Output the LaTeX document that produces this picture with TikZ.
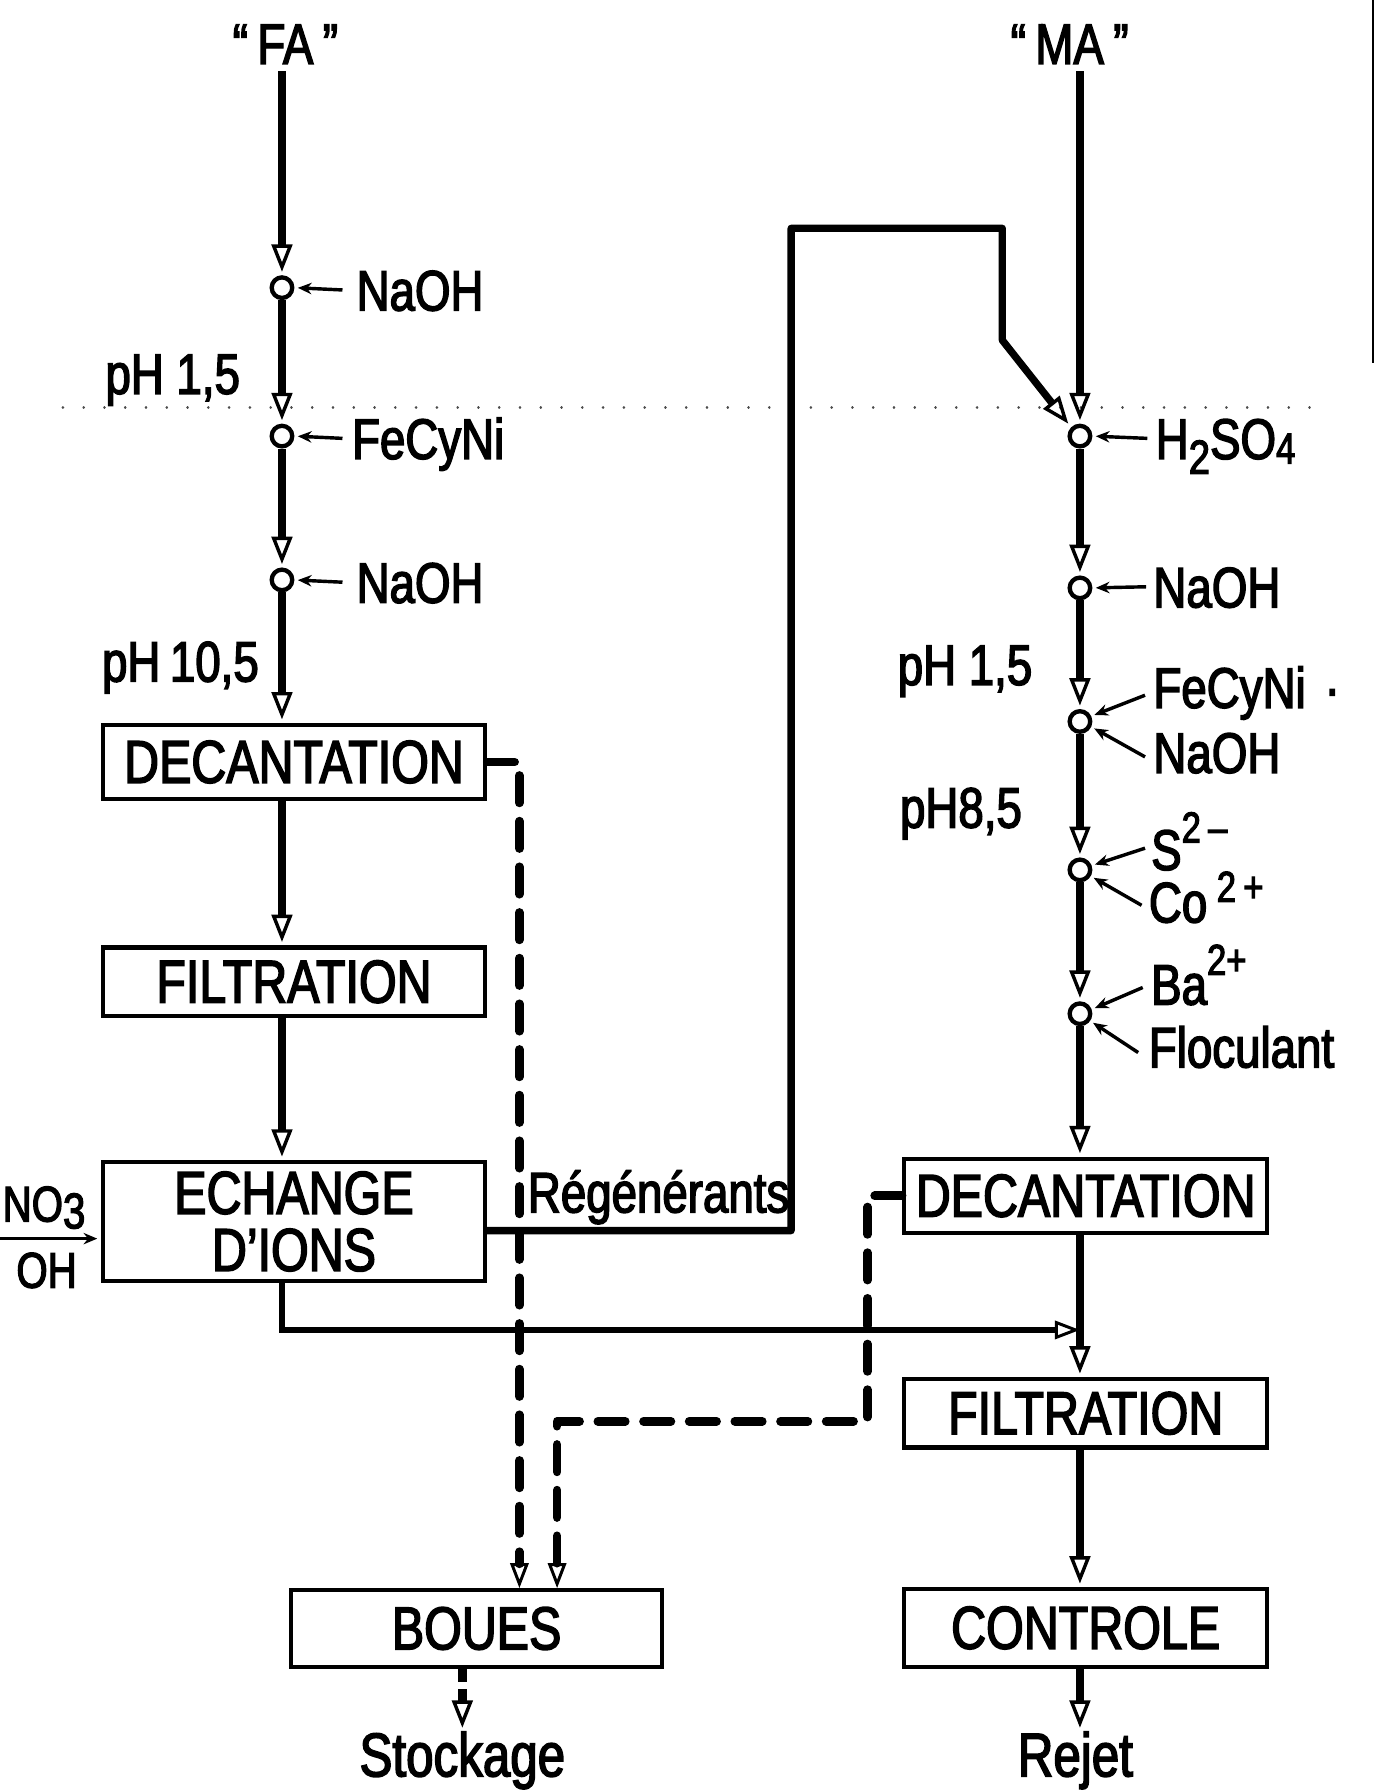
\documentclass[tikz,border=0pt]{standalone}
\usepackage{fontspec}
\setmainfont{Liberation Sans}[FakeStretch=0.8,FakeBold=2.5]
\usetikzlibrary{arrows.meta,calc}
\begin{document}
\begin{tikzpicture}[x=0.5pt,y=-0.5pt,
  flow/.style={line width=3.8pt, -{Triangle[open,length=12pt,width=9pt,line width=1.5pt]}, shorten >=1.5pt},
  thinflow/.style={line width=2.8pt, -{Triangle[open,length=11pt,width=8pt,line width=1.3pt]}},
  regen/.style={line width=3.2pt, line join=round, -{Triangle[open,length=12pt,width=9pt,line width=1.5pt]}, shorten >=2pt},
  sludge/.style={line width=3.8pt, dash pattern=on 12pt off 8pt, line cap=round, line join=round, -{Triangle[open,length=11pt,width=8pt,line width=1.3pt]}},
  box/.style={draw, line width=1.8pt, inner sep=0pt, font=\fontsize{26.5}{25}\selectfont},
  mix/.style={circle, draw, line width=1.9pt, fill=white, minimum size=9pt, inner sep=0pt},
  lbl/.style={inner sep=0pt, font=\fontsize{25}{28}\selectfont},
  reag/.style={line width=1.5pt, -{Stealth[length=6pt,width=5pt]}, shorten >=1.5pt},
  dots/.style={line width=1.1pt, dash pattern=on 0.1pt off 9pt, line cap=round, black!70},
]
\useasboundingbox (0,0) rectangle (1206,1568);

% scan artefacts: dotted fold line and page border
\draw[dots] (55,357) -- (1165,357);
\draw[line width=0.9pt] (1203,0) -- (1203,318);

% titles
\node[lbl, anchor=base] (fa) at (250,56) {“\,FA\,”};
\node[lbl, anchor=base] (ma) at (937,56) {“\,MA\,”};

% left column
\node[mix] (l1) at (247,252) {};
\node[mix] (l2) at (247,382) {};
\node[mix] (l3) at (247,508) {};
\node[box, minimum width=167.5pt, minimum height=32.5pt] (ldec) at (257.5,667.5) {DECANTATION};
\node[box, minimum width=167.5pt, minimum height=30pt] (lfil) at (257.5,860) {FILTRATION};
\node[box, minimum width=167.5pt, minimum height=52pt, align=center] (lech) at (257.5,1070) {ECHANGE\\D’IONS};
\node[box, minimum width=162.5pt, minimum height=33.5pt] (boues) at (417.5,1426.5) {BOUES};
\node[lbl, anchor=base, font=\fontsize{27}{30}\selectfont] (stock) at (405,1556) {Stockage};

% right column
\node[mix] (r1) at (946,382) {};
\node[mix] (r2) at (946,515) {};
\node[mix] (r3) at (946,632) {};
\node[mix] (r4) at (946,762) {};
\node[mix] (r5) at (946,888) {};
\node[box, minimum width=159pt, minimum height=32.5pt] (rdec) at (951,1047.5) {DECANTATION};
\node[box, minimum width=159pt, minimum height=30pt] (rfil) at (951,1238) {FILTRATION};
\node[box, minimum width=159pt, minimum height=34pt] (rctl) at (951,1426) {CONTROLE};
\node[lbl, anchor=base, font=\fontsize{27}{30}\selectfont] (rejet) at (942,1556) {Rejet};

% pH labels
\node[lbl, anchor=base west] (ph1) at (92,345) {pH 1,5};
\node[lbl, anchor=base west] (ph2) at (89,597) {pH\,10,5};
\node[lbl, anchor=base west] (ph3) at (786,600) {pH 1,5};
\node[lbl, anchor=base west] (ph4) at (788,725) {pH8,5};

% reagents left
\node[lbl, anchor=base west] (a1) at (312,272) {NaOH};
\node[lbl, anchor=base west] (a2) at (308,402) {FeCyNi};
\node[lbl, anchor=base west] (a3) at (312,528) {NaOH};
\draw[reag] ([shift={(-6pt,9pt)}]a1.base west) -- (l1.east);
\draw[reag] ([shift={(-4pt,9pt)}]a2.base west) -- (l2.east);
\draw[reag] ([shift={(-6pt,9pt)}]a3.base west) -- (l3.east);

% reagents right
\node[lbl, anchor=base west] (b1) at (1012,402) {H\raisebox{-6.5pt}{\fontsize{21}{22}\selectfont 2}SO\raisebox{-2pt}{\fontsize{19}{20}\selectfont 4}};
\node[lbl, anchor=base west] (b2) at (1010,532) {NaOH};
\node[lbl, anchor=base west] (b3) at (1010,620) {FeCyNi\,\,·};
\node[lbl, anchor=base west] (b4) at (1010,677) {NaOH};
\node[lbl, anchor=base west] (b5) at (1008,762) {S\raisebox{12pt}{\fontsize{19}{20}\selectfont 2\,–}};
\node[lbl, anchor=base west] (b6) at (1006,808) {Co\,\raisebox{9pt}{\fontsize{19}{20}\selectfont 2\,+}};
\node[lbl, anchor=base west] (b7) at (1008,880) {Ba\raisebox{13pt}{\fontsize{19}{20}\selectfont 2+}};
\node[lbl, anchor=base west] (b8) at (1006,935) {Floculant};
\draw[reag] ([shift={(-3.5pt,9pt)}]b1.base west) -- (r1.east);
\draw[reag] ([shift={(-3pt,9pt)}]b2.base west) -- (r2.east);
\draw[reag] ([shift={(-3.5pt,5.5pt)}]b3.base west) -- (r3.25);
\draw[reag] ([shift={(-3.5pt,7pt)}]b4.base west) -- (r3.-25);
\draw[reag] ([shift={(-2.5pt,9.5pt)}]b5.base west) -- (r4.20);
\draw[reag] ([shift={(-3pt,7.5pt)}]b6.base west) -- (r4.-30);
\draw[reag] ([shift={(-3.5pt,7.5pt)}]b7.base west) -- (r5.20);
\draw[reag] ([shift={(-4.5pt,6.5pt)}]b8.base west) -- (r5.-35);

% main flow left
\draw[flow, shorten <=3pt] (l1 |- fa.south) -- (l1.north);
\draw[flow] (l1.south) -- (l2.north);
\draw[flow] (l2.south) -- (l3.north);
\draw[flow] (l3.south) -- (l3 |- ldec.north);
\draw[flow] (l3 |- ldec.south) -- (l3 |- lfil.north);
\draw[flow] (l3 |- lfil.south) -- (l3 |- lech.north);
\coordinate (j1) at (946,1165);
\draw[thinflow] (l3 |- lech.south) |- (j1);

% ion exchange input
\node[lbl, anchor=base west, font=\fontsize{22}{24}\selectfont] (no3) at (2,1070) {NO\raisebox{-3pt}{3}};
\node[lbl, anchor=base west, font=\fontsize{22}{24}\selectfont] (oh) at (14,1128) {OH};
\coordinate (ion) at (0,1085);
\draw[reag] (ion) -- (ion -| lech.west);

% main flow right
\draw[flow, shorten <=3pt] (r1 |- ma.south) -- (r1.north);
\draw[flow] (r1.south) -- (r2.north);
\draw[flow] (r2.south) -- (r3.north);
\draw[flow] (r3.south) -- (r4.north);
\draw[flow] (r4.south) -- (r5.north);
\draw[flow] (r5.south) -- (r5 |- rdec.north);
\draw[flow] (r5 |- rdec.south) -- (r5 |- rfil.north);
\draw[flow] (r5 |- rfil.south) -- (r5 |- rctl.north);
\draw[flow] (r5 |- rctl.south) -- (r5 |- rejet.north);
\draw[flow, dash pattern=on 6pt off 3pt] (stock |- boues.south) -- (stock.north);

% regenerants loop
\node[lbl, anchor=base west] (regl) at (462,1062) {Régénérants};
\coordinate (g0) at (0,1078);
\coordinate (g1) at (693,200);
\coordinate (g2) at (878,298);
\draw[regen] (lech.east |- g0) -| (g1) -| (g2) -- (r1.135);

% sludge lines
\coordinate (d1) at (455,0);
\draw[sludge] (ldec.east) -| (d1 |- boues.north);
\coordinate (d2) at (760,1245);
\coordinate (d3) at (488,0);
\draw[sludge] (rdec.west) -| (d2) -| (d3 |- boues.north);
\end{tikzpicture}
\end{document}
